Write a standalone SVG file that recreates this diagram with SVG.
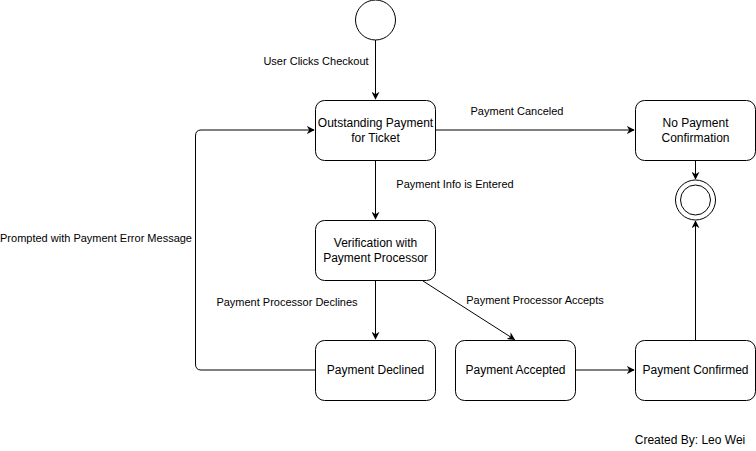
<svg xmlns="http://www.w3.org/2000/svg" width="756" height="451" viewBox="0 0 756 451">
<style>
.n{fill:#fff;stroke:#000;stroke-width:1}
.t{font-family:"Liberation Sans",Arial,sans-serif;font-size:12px;fill:#000;text-anchor:middle}
.l{font-family:"Liberation Sans",Arial,sans-serif;font-size:11px;fill:#000;text-anchor:middle}
.c{fill:none;stroke:#000;stroke-width:1}
</style>
<defs>
<marker id="a" viewBox="0 0 10 10" refX="9" refY="5" markerWidth="8" markerHeight="8" markerUnits="userSpaceOnUse" orient="auto">
<path d="M0,0 L10,5 L0,10 L3,5 Z" fill="#000"/>
</marker>
</defs>
<rect width="756" height="451" fill="#fff"/>
<g id="connectors">
<path class="c" d="M375.5,40 V99" marker-end="url(#a)"/>
<path class="c" d="M435,130 H634" marker-end="url(#a)"/>
<path class="c" d="M375.5,160 V219" marker-end="url(#a)"/>
<path class="c" d="M375.5,280 V339" marker-end="url(#a)"/>
<path class="c" d="M423,281 L514.5,339.5" marker-end="url(#a)"/>
<path class="c" d="M575,370 H634" marker-end="url(#a)"/>
<path class="c" d="M695.5,160 V179" marker-end="url(#a)"/>
<path class="c" d="M695.5,340 V221" marker-end="url(#a)"/>
<path class="c" d="M315,370 H201 Q195.5,370 195.5,364 V136 Q195.5,130 201,130 H314" marker-end="url(#a)"/>
</g>
<g id="labels">
<text class="l" x="316" y="65">User Clicks Checkout</text>
<text class="l" x="517" y="115">Payment Canceled</text>
<text class="l" x="455" y="188">Payment Info is Entered</text>
<text class="l" x="96" y="242">Prompted with Payment Error Message</text>
<text class="l" x="287" y="306">Payment Processor Declines</text>
<text class="l" x="535" y="304">Payment Processor Accepts</text>
<text class="t" x="690" y="444">Created By: Leo Wei</text>
</g>
<g id="start"><circle class="n" cx="375.5" cy="20" r="20"/></g>
<g id="end"><circle class="n" cx="695.5" cy="200" r="20"/><circle class="n" cx="695.5" cy="200" r="15"/></g>
<g id="outstanding"><rect class="n" x="315.5" y="100.5" width="120" height="60" rx="9"/><text class="t" x="375.5" y="127">Outstanding Payment</text><text class="t" x="375.5" y="142">for Ticket</text></g>
<g id="nopayment"><rect class="n" x="635.5" y="100.5" width="120" height="60" rx="9"/><text class="t" x="695.5" y="127">No Payment</text><text class="t" x="695.5" y="142">Confirmation</text></g>
<g id="verification"><rect class="n" x="315.5" y="220.5" width="120" height="60" rx="9"/><text class="t" x="375.5" y="247">Verification with</text><text class="t" x="375.5" y="262">Payment Processor</text></g>
<g id="declined"><rect class="n" x="315.5" y="340.5" width="120" height="60" rx="9"/><text class="t" x="375.5" y="374">Payment Declined</text></g>
<g id="accepted"><rect class="n" x="455.5" y="340.5" width="120" height="60" rx="9"/><text class="t" x="515.5" y="374">Payment Accepted</text></g>
<g id="confirmed"><rect class="n" x="635.5" y="340.5" width="120" height="60" rx="9"/><text class="t" x="695.5" y="374">Payment Confirmed</text></g>
</svg>
